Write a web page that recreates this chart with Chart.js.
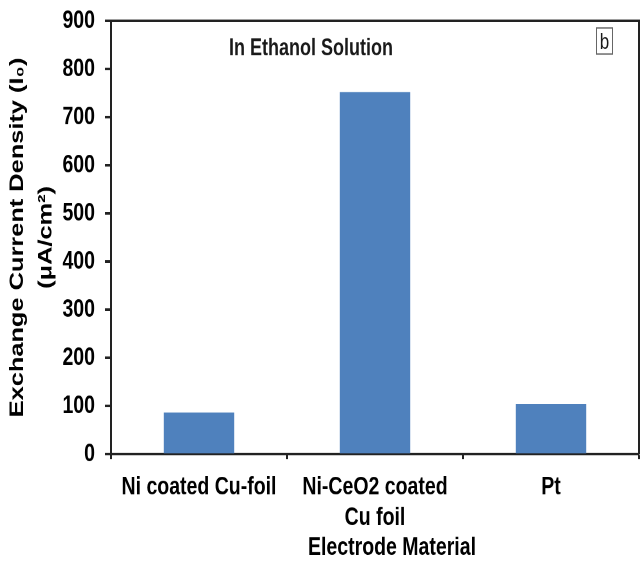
<!DOCTYPE html>
<html>
<head>
<meta charset="utf-8">
<script src="https://cdn.jsdelivr.net/npm/chart.js@4.4.1/dist/chart.umd.min.js"></script>
<style>
  html, body { margin: 0; padding: 0; background: #fff; width: 641px; height: 562px; }
  /* the source figure is stretched vertically, so the chart is drawn
     432px tall and scaled up to fill the 562px window */
  #outer { width: 641px; height: 562px; position: relative; }
  #wrap { position: absolute; left: 0; top: 0; width: 641px; height: 432px;
          transform: scaleY(1.30093); transform-origin: 0 0; }
</style>
</head>
<body>
<div id="outer"><div id="wrap"><canvas id="chart" width="641" height="432"></canvas></div></div>
<script>
const categories = [['Ni coated Cu-foil'], ['Ni-CeO2 coated', 'Cu foil'], ['Pt']];
const exchangeCurrent = [86, 752, 104];
const yTicks = [0, 100, 200, 300, 400, 500, 600, 700, 800, 900];

const barColor = '#4F81BD';
const lineColor = '#222';
const fontFamily = '"Liberation Sans", Arial, sans-serif';

// top/right frame, the in-plot notes and the x axis title
const framePlugin = {
    id: 'frame',
    afterDraw(chart) {
        const { ctx, chartArea } = chart;
        ctx.save();
        ctx.strokeStyle = lineColor;
        ctx.lineWidth = 2;
        ctx.beginPath();
        ctx.moveTo(chartArea.left, chartArea.top);
        ctx.lineTo(chartArea.right, chartArea.top);
        ctx.lineTo(chartArea.right, chartArea.bottom);
        ctx.stroke();

        ctx.fillStyle = '#1a1a1a';
        ctx.textBaseline = 'alphabetic';
        ctx.textAlign = 'left';
        ctx.font = 'bold 18px ' + fontFamily;
        ctx.fillText('In Ethanol Solution', 229, 42.3);

        ctx.strokeStyle = '#666';
        ctx.lineWidth = 1;
        ctx.strokeRect(596.5, 21.5, 16, 20);
        ctx.font = '17px ' + fontFamily;
        ctx.textAlign = 'center';
        ctx.fillText('b', 604.5, 37.7);

        ctx.fillStyle = '#000';
        ctx.font = 'bold 19.5px ' + fontFamily;
        ctx.fillText('Electrode Material', 392, 426.5);
        ctx.restore();
    }
};

new Chart(document.getElementById('chart'), {
    type: 'bar',
    data: {
        labels: categories,
        datasets: [{
            data: exchangeCurrent,
            backgroundColor: barColor,
            borderWidth: 0,
            barPercentage: 1,
            categoryPercentage: 0.4
        }]
    },
    options: {
        responsive: false,
        animation: false,
        devicePixelRatio: 2,
        layout: { padding: { top: 16, right: 2, left: 0, bottom: 0 } },
        plugins: {
            legend: { display: false },
            tooltip: { enabled: false }
        },
        scales: {
            x: {
                offset: true,
                grid: {
                    offset: true,
                    drawOnChartArea: false,
                    color: lineColor,
                    tickLength: 4,
                    tickWidth: 2
                },
                border: { color: lineColor, width: 2 },
                ticks: {
                    color: '#000',
                    padding: 10,
                    maxRotation: 0,
                    font: { family: fontFamily, size: 19.5, weight: 'bold' }
                },
                afterFit(scale) { scale.height = 83; }
            },
            y: {
                min: 0,
                max: 900,
                afterBuildTicks(scale) { scale.ticks = yTicks.map(v => ({ value: v })); },
                grid: {
                    drawOnChartArea: false,
                    color: lineColor,
                    tickLength: 6,
                    tickWidth: 2
                },
                border: { color: lineColor, width: 2 },
                ticks: {
                    color: '#000',
                    padding: 10,
                    font: { family: fontFamily, size: 19.5, weight: 'bold' }
                },
                title: {
                    display: true,
                    text: ['Exchange Current Density (I\u2080)', '(\u03bcA/cm\u00b2)'],
                    color: '#000',
                    padding: { top: 3.7, bottom: 0 },
                    font: { family: fontFamily, size: 19.5, weight: 'bold', lineHeight: 1.45 }
                },
                afterFit(scale) {
                    scale.width = 111;
                    scale.paddingTop = 0;
                }
            }
        }
    },
    plugins: [framePlugin]
});
</script>
</body>
</html>
